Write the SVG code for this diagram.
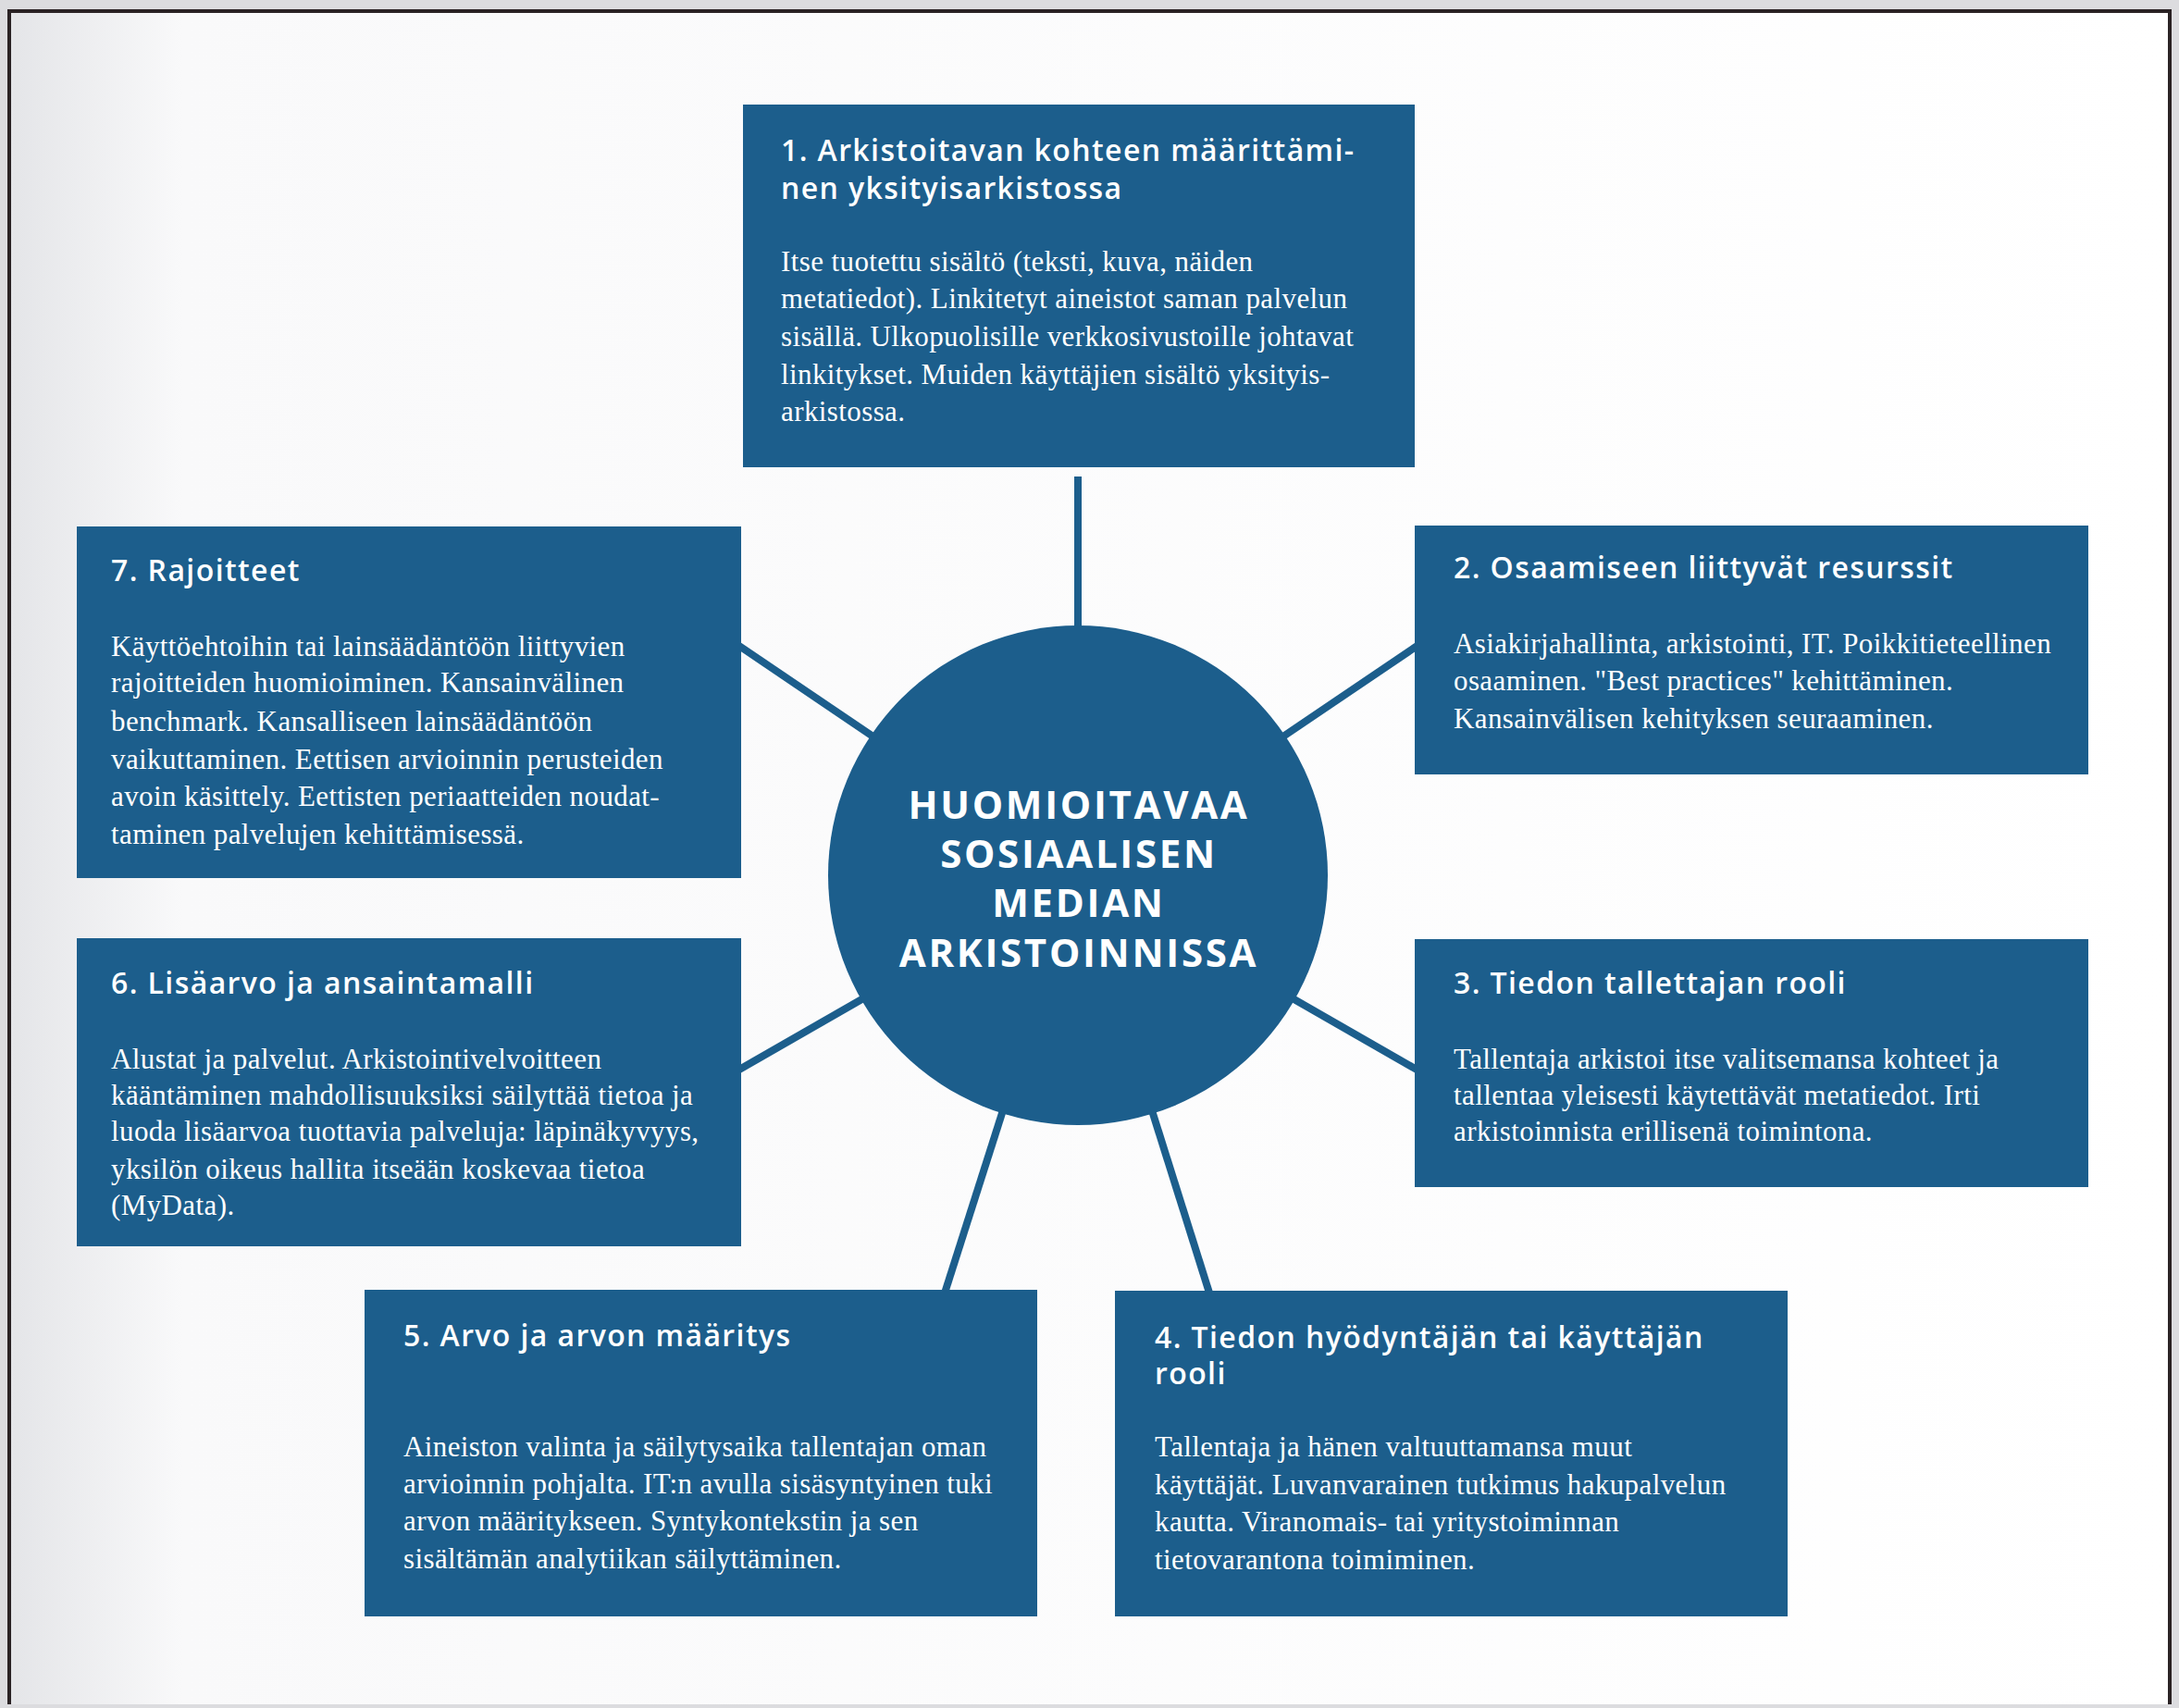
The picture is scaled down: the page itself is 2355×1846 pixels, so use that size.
<svg xmlns="http://www.w3.org/2000/svg" width="2355" height="1846" viewBox="0 0 2355 1846">
<defs>
<linearGradient id="shade" x1="0" y1="0" x2="1" y2="0">
<stop offset="0" stop-color="#e4e5e8"/>
<stop offset="0.08" stop-color="#f9f9fa"/>
<stop offset="1" stop-color="#ffffff"/>
</linearGradient>
<style>
.box{fill:#1c5e8c}
.ttl{font-family:"Open Sans","Liberation Sans",sans-serif;font-weight:600;font-size:32px;letter-spacing:1.4px;fill:#ffffff}
.bd{font-family:"Liberation Serif","DejaVu Serif",serif;font-size:31px;letter-spacing:0.4px;fill:#ffffff}
.ctr{font-family:"Open Sans","Liberation Sans",sans-serif;font-weight:700;font-size:42px;letter-spacing:2.7px;fill:#ffffff;text-anchor:middle}
.con{stroke:#1c5e8c;stroke-width:8;fill:none}
</style>
</defs>
<rect x="0" y="0" width="2355" height="1846" fill="#dcdcdf"/>
<rect x="10" y="12" width="2335" height="1830" fill="url(#shade)"/>
<path d="M10 1842 V12 H2345 V1842" fill="none" stroke="#2a2224" stroke-width="4"/>
<g id="connectors">
<line class="con" x1="1165" y1="946" x2="1165" y2="515"/>
<line class="con" x1="1165" y1="946" x2="1545" y2="689"/>
<line class="con" x1="1165" y1="946" x2="1545" y2="1164"/>
<line class="con" x1="1165" y1="946" x2="1311" y2="1410"/>
<line class="con" x1="1165" y1="946" x2="1017" y2="1410"/>
<line class="con" x1="1165" y1="946" x2="785" y2="1164"/>
<line class="con" x1="1165" y1="946" x2="787" y2="690"/>
</g>
<g id="center">
<circle cx="1165" cy="946" r="270" class="box"/>
<text class="ctr" x="1166" y="885"><tspan x="1166" y="885">HUOMIOITAVAA</tspan><tspan x="1166" y="938">SOSIAALISEN</tspan><tspan x="1166" y="991">MEDIAN</tspan><tspan x="1166" y="1045">ARKISTOINNISSA</tspan></text>
</g>
<g id="node1">
<rect class="box" x="803" y="113" width="726" height="392"/>
<text class="ttl" x="844" y="174">1. Arkistoitavan kohteen määrittämi-</text>
<text class="ttl" x="844" y="215">nen yksityisarkistossa</text>
<text class="bd" x="844" y="293">Itse tuotettu sisältö (teksti, kuva, näiden</text>
<text class="bd" x="844" y="333">metatiedot). Linkitetyt aineistot saman palvelun</text>
<text class="bd" x="844" y="374">sisällä. Ulkopuolisille verkkosivustoille johtavat</text>
<text class="bd" x="844" y="415">linkitykset. Muiden käyttäjien sisältö yksityis-</text>
<text class="bd" x="844" y="455">arkistossa.</text>
</g>
<g id="node2">
<rect class="box" x="1529" y="568" width="728" height="269"/>
<text class="ttl" x="1571" y="625">2. Osaamiseen liittyvät resurssit</text>
<text class="bd" x="1571" y="706">Asiakirjahallinta, arkistointi, IT. Poikkitieteellinen</text>
<text class="bd" x="1571" y="746">osaaminen. "Best practices" kehittäminen.</text>
<text class="bd" x="1571" y="787">Kansainvälisen kehityksen seuraaminen.</text>
</g>
<g id="node3">
<rect class="box" x="1529" y="1015" width="728" height="268"/>
<text class="ttl" x="1571" y="1074">3. Tiedon tallettajan rooli</text>
<text class="bd" x="1571" y="1155">Tallentaja arkistoi itse valitsemansa kohteet ja</text>
<text class="bd" x="1571" y="1194">tallentaa yleisesti käytettävät metatiedot. Irti</text>
<text class="bd" x="1571" y="1233">arkistoinnista erillisenä toimintona.</text>
</g>
<g id="node4">
<rect class="box" x="1205" y="1395" width="727" height="352"/>
<text class="ttl" x="1248" y="1457">4. Tiedon hyödyntäjän tai käyttäjän</text>
<text class="ttl" x="1248" y="1496">rooli</text>
<text class="bd" x="1248" y="1574">Tallentaja ja hänen valtuuttamansa muut</text>
<text class="bd" x="1248" y="1615">käyttäjät. Luvanvarainen tutkimus hakupalvelun</text>
<text class="bd" x="1248" y="1655">kautta. Viranomais- tai yritystoiminnan</text>
<text class="bd" x="1248" y="1696">tietovarantona toimiminen.</text>
</g>
<g id="node5">
<rect class="box" x="394" y="1394" width="727" height="353"/>
<text class="ttl" x="436" y="1455">5. Arvo ja arvon määritys</text>
<text class="bd" x="436" y="1574">Aineiston valinta ja säilytysaika tallentajan oman</text>
<text class="bd" x="436" y="1614">arvioinnin pohjalta. IT:n avulla sisäsyntyinen tuki</text>
<text class="bd" x="436" y="1654">arvon määritykseen. Syntykontekstin ja sen</text>
<text class="bd" x="436" y="1695">sisältämän analytiikan säilyttäminen.</text>
</g>
<g id="node6">
<rect class="box" x="83" y="1014" width="718" height="333"/>
<text class="ttl" x="120" y="1074">6. Lisäarvo ja ansaintamalli</text>
<text class="bd" x="120" y="1155">Alustat ja palvelut. Arkistointivelvoitteen</text>
<text class="bd" x="120" y="1194">kääntäminen mahdollisuuksiksi säilyttää tietoa ja</text>
<text class="bd" x="120" y="1233">luoda lisäarvoa tuottavia palveluja: läpinäkyvyys,</text>
<text class="bd" x="120" y="1274">yksilön oikeus hallita itseään koskevaa tietoa</text>
<text class="bd" x="120" y="1313">(MyData).</text>
</g>
<g id="node7">
<rect class="box" x="83" y="569" width="718" height="380"/>
<text class="ttl" x="120" y="628">7. Rajoitteet</text>
<text class="bd" x="120" y="709">Käyttöehtoihin tai lainsäädäntöön liittyvien</text>
<text class="bd" x="120" y="748">rajoitteiden huomioiminen. Kansainvälinen</text>
<text class="bd" x="120" y="790">benchmark. Kansalliseen lainsäädäntöön</text>
<text class="bd" x="120" y="831">vaikuttaminen. Eettisen arvioinnin perusteiden</text>
<text class="bd" x="120" y="871">avoin käsittely. Eettisten periaatteiden noudat-</text>
<text class="bd" x="120" y="912">taminen palvelujen kehittämisessä.</text>
</g>
</svg>
